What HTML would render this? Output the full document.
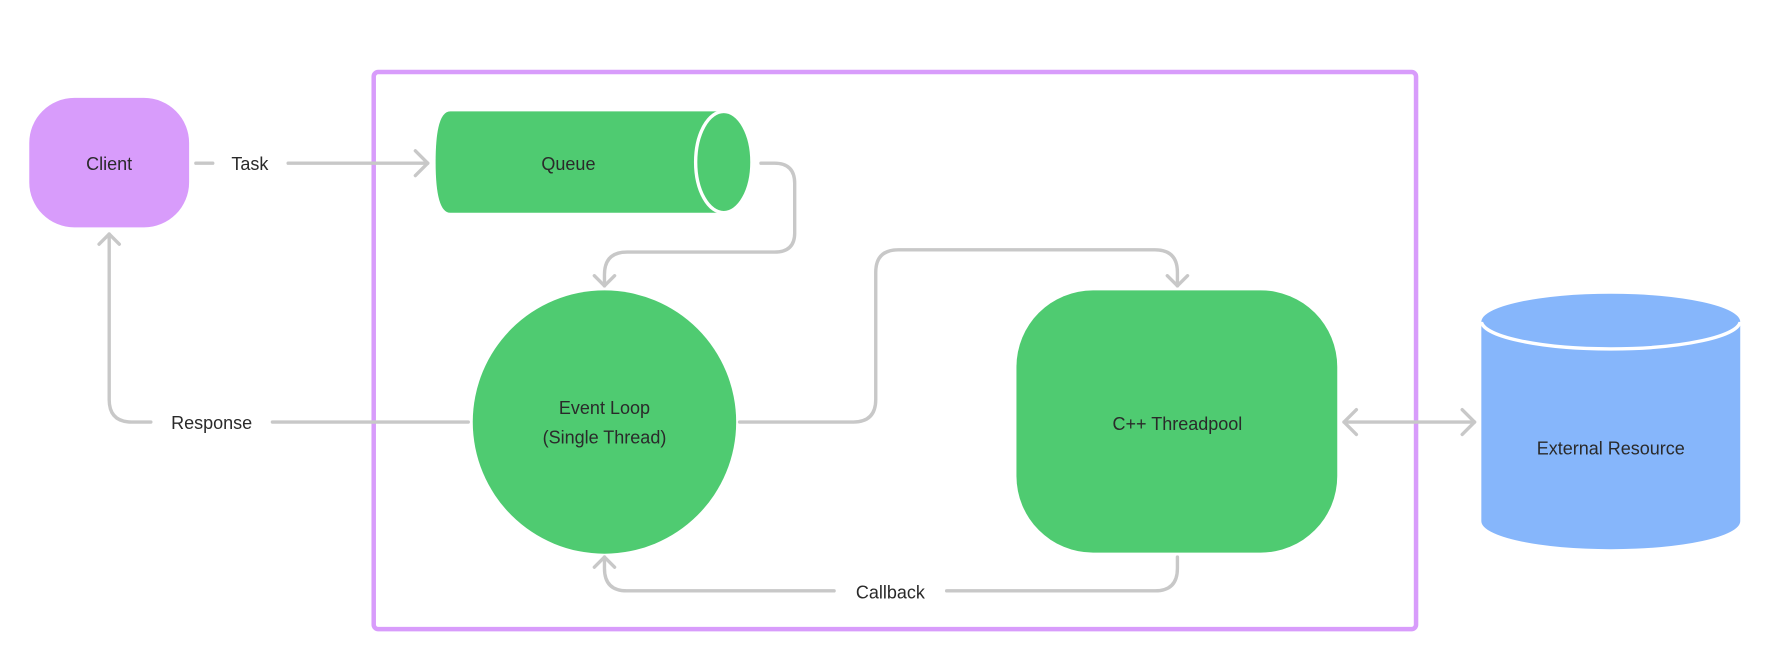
<!DOCTYPE html>
<html><head><style>html,body{margin:0;padding:0;background:#fff;}svg{display:block}</style></head>
<body>
<svg width="1765" height="646" viewBox="0 0 1568 574" preserveAspectRatio="none" xmlns="http://www.w3.org/2000/svg" font-family="Liberation Sans, sans-serif" font-size="16" fill="#2a2a2a">
<rect x="0" y="0" width="1568" height="574" fill="#fff"/>
<rect x="332" y="64" width="926" height="495" rx="4" fill="none" stroke="#d89cfb" stroke-width="4"/>
<g fill="none" stroke="#c8c8c8" stroke-width="3" stroke-linecap="round" stroke-linejoin="round">
<line x1="174" y1="145" x2="189" y2="145"/>
<line x1="256" y1="145" x2="380" y2="145"/>
<polyline points="369,134 380,145 369,156"/>
<path d="M676,145 H688 Q706,145 706,163 V207 Q706,224 688,224 H557 Q537,224 537,244 V254"/>
<polyline points="528,245 537,254 546,245"/>
<path d="M416,375 H242"/>
<path d="M134,375 H117 Q97,375 97,355 V208"/>
<polyline points="88,217 97,208 106,217"/>
<path d="M657,375 H758 Q778,375 778,355 V242 Q778,222 798,222 H1026 Q1046,222 1046,242 V254"/>
<polyline points="1037,245 1046,254 1055,245"/>
<line x1="1194" y1="375" x2="1310" y2="375"/>
<polyline points="1205,364 1194,375 1205,386"/>
<polyline points="1299,364 1310,375 1299,386"/>
<path d="M1046,495 V505 Q1046,525 1026,525 H841"/>
<path d="M741,525 H557 Q537,525 537,505 V495"/>
<polyline points="528,504 537,495 546,504"/>
</g>
<rect x="26" y="87" width="142" height="115" rx="40" fill="#d89cfb"/>
<text x="97" y="151" text-anchor="middle">Client</text>
<text x="222" y="151" text-anchor="middle">Task</text>
<path d="M400,99 H643 V189 H400 Q387,189 387,144 Q387,99 400,99 Z" fill="#4fcb71"/>
<ellipse cx="643" cy="144" rx="25" ry="45" fill="#4fcb71" stroke="#fff" stroke-width="3"/>
<text x="505" y="151" text-anchor="middle">Queue</text>
<circle cx="537" cy="375" r="117" fill="#4fcb71"/>
<text x="537" y="368" text-anchor="middle">Event Loop</text>
<text x="537" y="394" text-anchor="middle">(Single Thread)</text>
<text x="188" y="381" text-anchor="middle">Response</text>
<rect x="903" y="258" width="285" height="233" rx="68" fill="#4fcb71"/>
<text x="1046" y="382" text-anchor="middle">C++ Threadpool</text>
<path d="M1316,286 V463 A115,25 0 0 0 1546,463 V286 Z" fill="#86b6fb"/>
<ellipse cx="1431" cy="285" rx="115" ry="25" fill="#86b6fb" stroke="#fff" stroke-width="3"/>
<path d="M1316,286 A115,25 0 0 1 1546,286" fill="#86b6fb"/>
<text x="1431" y="404" text-anchor="middle">External Resource</text>
<text x="791" y="532" text-anchor="middle">Callback</text>
</svg>
</body></html>
